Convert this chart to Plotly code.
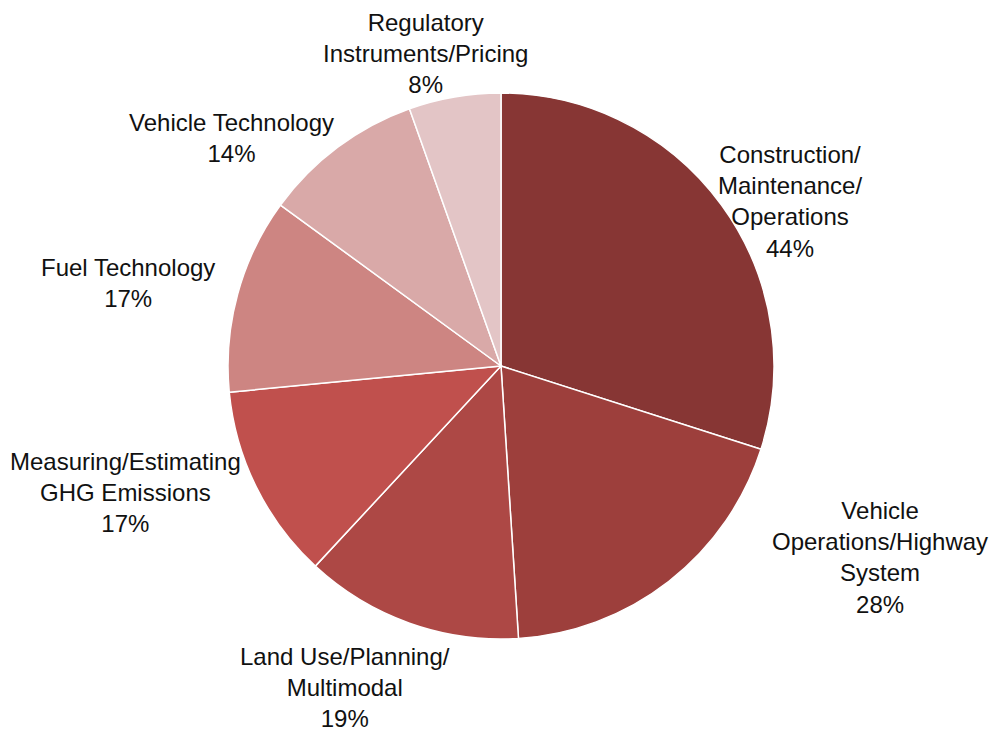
import plotly.graph_objects as go

# Share of research topics (percent of responses; multiple answers allowed)
categories = [
    "Construction/<br>Maintenance/<br>Operations",
    "Vehicle<br>Operations/Highway<br>System",
    "Land Use/Planning/<br>Multimodal",
    "Measuring/Estimating<br>GHG Emissions",
    "Fuel Technology",
    "Vehicle Technology",
    "Regulatory<br>Instruments/Pricing",
]
shares = [44, 28, 19, 17, 17, 14, 8]

colors = ["#873634", "#9d3f3c", "#ad4845", "#c0504d", "#cd8582", "#d9a9a8", "#e3c5c6"]

# label centres in pixels (x, y from top) on a 990 x 734 canvas
label_px = [(790, 201), (880, 557), (345, 687), (125, 492), (128, 283), (231, 138), (425, 54)]

W, H = 990, 734
cx, cy, r = 501, 366, 273

fig = go.Figure(
    go.Pie(
        values=shares,
        labels=[c.replace("<br>", " ") for c in categories],
        sort=False,
        direction="clockwise",
        rotation=0,
        textinfo="none",
        hoverinfo="label+value",
        marker=dict(colors=colors, line=dict(color="white", width=1.5)),
        domain=dict(
            x=[(cx - r) / W, (cx + r) / W],
            y=[(H - cy - r) / H, (H - cy + r) / H],
        ),
        showlegend=False,
    )
)

font = dict(family="Liberation Sans Narrow, Arial Narrow, Liberation Sans, sans-serif", size=24, color="#111111")
for cat, val, (px, py) in zip(categories, shares, label_px):
    fig.add_annotation(
        x=px / W, y=1 - py / H, xref="paper", yref="paper",
        text=f"{cat}<br>{val}%", showarrow=False,
        xanchor="center", yanchor="middle", align="center", font=font,
    )

fig.update_layout(
    width=W, height=H,
    margin=dict(l=0, r=0, t=0, b=0),
    paper_bgcolor="white", plot_bgcolor="white",
)

fig.write_html("out.html")
